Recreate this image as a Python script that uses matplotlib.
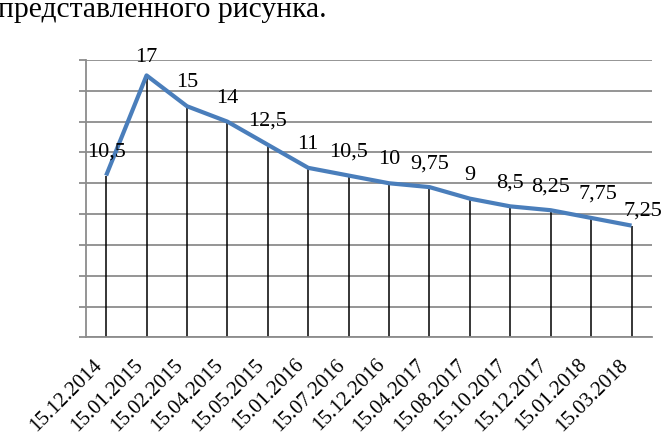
import matplotlib
matplotlib.use("Agg")
import matplotlib.pyplot as plt

plt.rcParams['font.family'] = ['Liberation Serif', 'DejaVu Serif']

dates = ["15.12.2014", "15.01.2015", "15.02.2015", "15.04.2015", "15.05.2015",
         "15.01.2016", "15.07.2016", "15.12.2016", "15.04.2017", "15.08.2017",
         "15.10.2017", "15.12.2017", "15.01.2018", "15.03.2018"]
rates = [10.5, 17, 15, 14, 12.5, 11, 10.5, 10, 9.75, 9, 8.5, 8.25, 7.75, 7.25]

# labels that Excel moved a little to keep them inside the chart (pixels)
label_nudge = {1: (0, -6), 12: (7, 0), 13: (11, -9)}

fig = plt.figure(figsize=(6.61, 4.37), dpi=100)
ax = fig.add_axes([0.130, 0.2281, 0.856, 0.6346])

x = list(range(len(rates)))
ax.vlines(x, 0, rates, color="black", linewidth=1.1, zorder=2)
ax.plot(x, rates, color="#4a7ebb", linewidth=3.0, zorder=3, solid_capstyle="butt")

for i, v in enumerate(rates):
    txt = ("%g" % v).replace(".", ",")
    dx, dy = label_nudge.get(i, (0, 0))
    ax.annotate(txt, (i, v), xytext=(dx, 19 + dy), textcoords="offset pixels",
                ha="center", va="baseline", fontsize=16, zorder=4)

ax.set_xlim(-0.5, len(rates) - 0.5)
ax.set_ylim(0, 18)
ax.set_yticks(range(0, 19, 2))
ax.set_yticklabels([])
ax.yaxis.grid(True, color="#8c8c8c", linewidth=1.3)
ax.set_axisbelow(True)
ax.tick_params(axis="y", length=5, width=1.3, color="#8c8c8c", direction="out")

ax.set_xticks(x)
ax.set_xticklabels(dates, rotation=45, ha="right", fontsize=15)
ax.tick_params(axis="x", length=0, pad=13)

for s in ["top", "right"]:
    ax.spines[s].set_visible(False)
for s in ["left", "bottom"]:
    ax.spines[s].set_color("#8c8c8c")
    ax.spines[s].set_linewidth(1.3)

fig.text(-0.003, 1 - 17 / 437, "представленного рисунка.", fontsize=21.3,
         ha="left", va="baseline")

fig.savefig("out.png", dpi=100)
